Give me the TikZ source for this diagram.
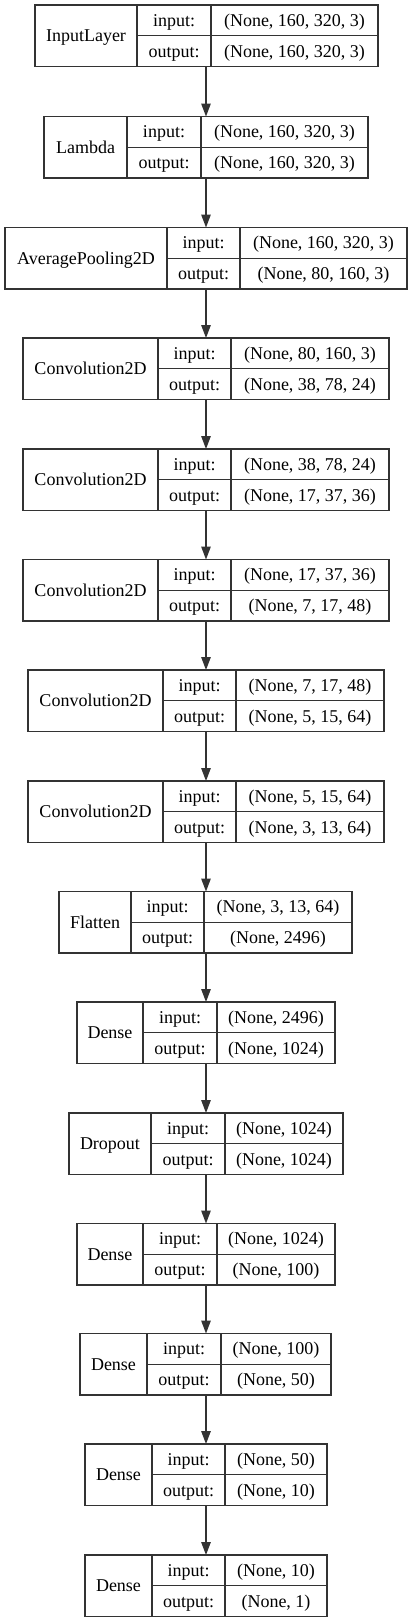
\documentclass[tikz,border=0pt]{standalone}
\usepackage{fontspec}
\setmainfont{Liberation Serif}
\usetikzlibrary{arrows.meta}
\tikzset{
  box/.style={draw=black!80, line width=1.2pt, fill=white, inner sep=0pt, outer sep=0pt},
  ln/.style={draw=black!80, line width=1.2pt},
  txt/.style={inner sep=0pt, anchor=base, font=\fontsize{18}{21}\selectfont},
  arr/.style={draw=black!80, line width=1.3pt, -{Triangle[length=13pt,width=9.5pt]}}
}
% #1 name, #2 label, #3 xl, #4 d1, #5 d2, #6 xr, #7 ytop, #8 input, #9 output
\newcommand\kerasLayer[9]{%
  \node[box, minimum width={(#6-#3)*1pt}, minimum height=61.5pt, anchor=north west] (#1) at (#3,#7) {};
  \draw[ln] (#4,#7) -- (#4,#7+61.5);
  \draw[ln] (#5,#7) -- (#5,#7+61.5);
  \draw[ln] (#4,#7+30.75) -- (#6,#7+30.75);
  \node[txt] (#1n) at ({(#3+#4)/2},#7+36.6) {#2};
  \node[txt] (#1i) at ({(#4+#5)/2},#7+21.2) {input:};
  \node[txt] (#1o) at ({(#4+#5)/2},#7+52.0) {output:};
  \node[txt] (#1iv) at ({(#5+#6)/2},#7+21.2) {#8};
  \node[txt] (#1ov) at ({(#5+#6)/2},#7+52.0) {#9};
}
\begin{document}
\begin{tikzpicture}[x=1pt,y=-1pt]
\useasboundingbox (0,0) rectangle (412,1623);
\fill[white] (0,0) rectangle (412,1623);
\kerasLayer{L1}{InputLayer}{35}{137}{211}{378}{5}{(None, 160, 320, 3)}{(None, 160, 320, 3)}
\kerasLayer{L2}{Lambda}{44}{127}{201}{368}{116.5}{(None, 160, 320, 3)}{(None, 160, 320, 3)}
\kerasLayer{L3}{AveragePooling2D}{5}{167}{240}{407}{227.5}{(None, 160, 320, 3)}{(None, 80, 160, 3)}
\kerasLayer{L4}{Convolution2D}{23}{158}{231}{389}{338}{(None, 80, 160, 3)}{(None, 38, 78, 24)}
\kerasLayer{L5}{Convolution2D}{23}{158}{231}{389}{449}{(None, 38, 78, 24)}{(None, 17, 37, 36)}
\kerasLayer{L6}{Convolution2D}{23}{158}{231}{389}{559.5}{(None, 17, 37, 36)}{(None, 7, 17, 48)}
\kerasLayer{L7}{Convolution2D}{28}{163}{236}{384}{670}{(None, 7, 17, 48)}{(None, 5, 15, 64)}
\kerasLayer{L8}{Convolution2D}{28}{163}{236}{384}{781}{(None, 5, 15, 64)}{(None, 3, 13, 64)}
\kerasLayer{L9}{Flatten}{59}{131}{204}{352}{891.5}{(None, 3, 13, 64)}{(None, 2496)}
\kerasLayer{L10}{Dense}{77}{143}{217}{335}{1002}{(None, 2496)}{(None, 1024)}
\kerasLayer{L11}{Dropout}{69}{151}{225}{343}{1113}{(None, 1024)}{(None, 1024)}
\kerasLayer{L12}{Dense}{77}{143}{217}{335}{1223.5}{(None, 1024)}{(None, 100)}
\kerasLayer{L13}{Dense}{80}{147}{221}{331}{1333.5}{(None, 100)}{(None, 50)}
\kerasLayer{L14}{Dense}{85}{152}{225}{327}{1444}{(None, 50)}{(None, 10)}
\kerasLayer{L15}{Dense}{85}{152}{225}{327}{1555}{(None, 10)}{(None, 1)}
\coordinate (axis) at (206,0);
\foreach \a/\b in {L1/L2,L2/L3,L3/L4,L4/L5,L5/L6,L6/L7,L7/L8,L8/L9,L9/L10,L10/L11,L11/L12,L12/L13,L13/L14,L14/L15}
  \draw[arr] (axis |- \a.south) -- (axis |- \b.north);
\end{tikzpicture}
\end{document}
